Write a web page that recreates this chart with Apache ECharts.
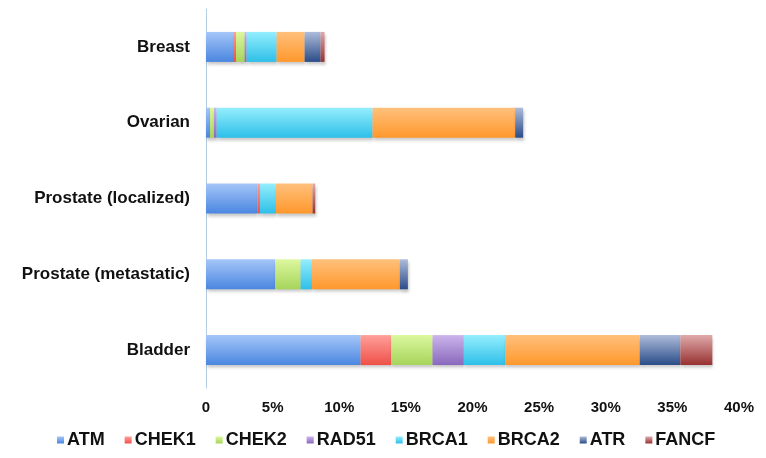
<!DOCTYPE html>
<html>
<head>
<meta charset="utf-8">
<script src="https://cdn.jsdelivr.net/npm/echarts@6/dist/echarts.min.js"></script>
<style>
html,body{margin:0;padding:0;background:#fff;}
#c{width:766px;height:458px;}
</style>
</head>
<body>
<div id="c"></div>
<script>
var categories = ['Breast', 'Ovarian', 'Prostate (localized)', 'Prostate (metastatic)', 'Bladder'];
var ATM   = [2.1, 0.3, 3.85, 5.2, 11.6];
var CHEK1 = [0.15, 0, 0.2, 0, 2.3];
var CHEK2 = [0.65, 0.3, 0, 1.9, 3.1];
var RAD51 = [0.15, 0.2, 0, 0, 2.35];
var BRCA1 = [2.25, 11.7, 1.2, 0.85, 3.1];
var BRCA2 = [2.1, 10.7, 2.75, 6.6, 10.1];
var ATR   = [1.2, 0.6, 0, 0.6, 3.05];
var FANCF = [0.3, 0, 0.2, 0, 2.4];
var xTicks = [0, 5, 10, 15, 20, 25, 30, 35, 40];

var seriesDefs = [
  ['ATM', ATM, '#a5c6f8', '#4a86e0'],
  ['CHEK1', CHEK1, '#ffa09a', '#ee5048'],
  ['CHEK2', CHEK2, '#dcf89e', '#a6d45a'],
  ['RAD51', RAD51, '#ccb4ec', '#8868bc'],
  ['BRCA1', BRCA1, '#94eefd', '#2ebfe8'],
  ['BRCA2', BRCA2, '#ffc07c', '#ff982c'],
  ['ATR', ATR, '#aebcda', '#2a4c88'],
  ['FANCF', FANCF, '#e0aaaa', '#983030']
];

function grad(a, b) {
  return new echarts.graphic.LinearGradient(0, 0, 0, 1, [
    {offset: 0, color: a}, {offset: 1, color: b}
  ]);
}

var series = seriesDefs.map(function (d) {
  return {
    name: d[0],
    type: 'bar',
    stack: 'total',
    barWidth: 30,
    data: d[1],
    itemStyle: {
      color: grad(d[2], d[3]),
      shadowColor: 'rgba(0,0,0,0.22)',
      shadowBlur: 3,
      shadowOffsetY: 3,
      shadowOffsetX: 1
    },
    emphasis: {disabled: true}
  };
});

var chart = echarts.init(document.getElementById('c'), null, {renderer: 'canvas'});
chart.setOption({
  animation: false,
  backgroundColor: '#ffffff',
  color: seriesDefs.map(function (d) { return d[3]; }),
  grid: {left: 206, right: 27, top: 9, bottom: 70, containLabel: false},
  legend: {
    top: 426,
    left: 52,
    icon: 'rect',
    itemWidth: 7,
    itemHeight: 7,
    itemGap: 20,
    textStyle: {fontFamily: 'Liberation Sans, Arial, sans-serif', fontWeight: 'bold', fontSize: 18, color: '#111', padding: [0, 0, 0, -2]},
    data: seriesDefs.map(function (d) { return {name: d[0], itemStyle: {color: grad(d[2], d[3])}}; })
  },
  xAxis: {
    type: 'value',
    min: xTicks[0],
    max: xTicks[xTicks.length - 1],
    interval: 5,
    axisLine: {show: false},
    axisTick: {show: false},
    splitLine: {show: false},
    axisLabel: {
      margin: 12,
      fontFamily: 'Liberation Sans, Arial, sans-serif',
      fontWeight: 'bold',
      fontSize: 15,
      color: '#111',
      formatter: function (v) { return v === 0 ? '0' : v + '%'; }
    }
  },
  yAxis: {
    type: 'category',
    data: categories,
    inverse: true,
    axisLine: {show: true, lineStyle: {color: '#b4cde4', width: 1}},
    axisTick: {show: false},
    axisLabel: {
      margin: 16,
      fontFamily: 'Liberation Sans, Arial, sans-serif',
      fontWeight: 'bold',
      fontSize: 17,
      color: '#111'
    }
  },
  series: series
});
</script>
</body>
</html>
